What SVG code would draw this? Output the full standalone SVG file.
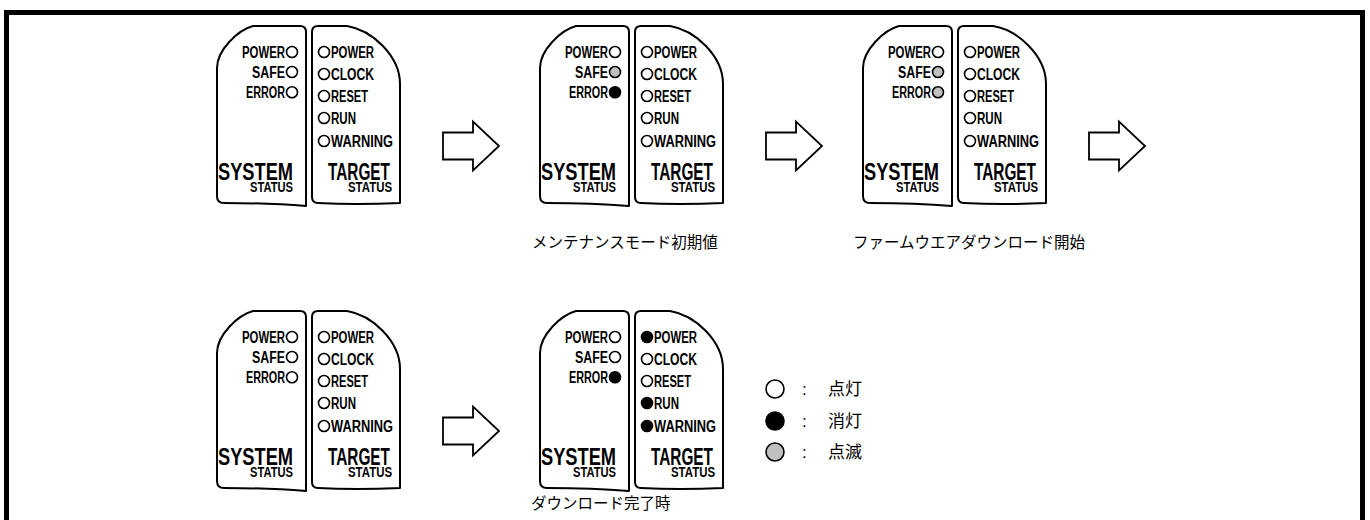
<svg xmlns="http://www.w3.org/2000/svg" xmlns:xlink="http://www.w3.org/1999/xlink" width="1370" height="520" viewBox="0 0 1370 520">
  <style>
    .frame { fill: none; stroke: #000; stroke-width: 5; }
    .case { fill: #fff; stroke: #000; stroke-width: 2; stroke-linejoin: round; }
    .led { stroke: #000; stroke-width: 1.6; }
    .on { fill: #fff; }
    .off { fill: #000; }
    .blink { fill: #c0c0c0; }
    .lbl { font-family: "Liberation Sans", Arial, sans-serif; font-weight: bold; font-size: 16px; fill: #000; }
    .big { font-family: "Liberation Sans", Arial, sans-serif; font-weight: bold; font-size: 24px; fill: #000; }
    .sub { font-family: "Liberation Sans", Arial, sans-serif; font-weight: bold; font-size: 14px; fill: #000; }
    .cap { font-family: "Liberation Sans", "Noto Sans CJK JP", sans-serif; font-size: 15.5px; fill: #000; }
    .leg { font-family: "Liberation Sans", "Noto Sans CJK JP", sans-serif; font-size: 17px; fill: #000; }
    .arrow { fill: #fff; stroke: #000; stroke-width: 1.8; stroke-linejoin: miter; }
  </style>
  <defs>
    <!-- status panel housing: SYSTEM half (left) and TARGET half (right) -->
    <g id="housing">
      <path class="case" d="M253,26 H300 Q306,26 306,32 V206 Q270,203 224,203 Q217,203 217,196 V68 C217,50 238,30 253,26 Z"/>
      <path class="case" d="M318,26 H347 C372,30 400,56 400,84 V203 Q356,205 318,203 Q312,203 312,197 V32 Q312,26 318,26 Z"/>
      <text class="lbl" x="285" y="57.8" text-anchor="end" textLength="43" lengthAdjust="spacingAndGlyphs">POWER</text>
      <text class="lbl" x="285" y="77.8" text-anchor="end" textLength="33" lengthAdjust="spacingAndGlyphs">SAFE</text>
      <text class="lbl" x="285" y="98.1" text-anchor="end" textLength="39" lengthAdjust="spacingAndGlyphs">ERROR</text>
      <text class="lbl" x="331" y="57.8" textLength="43" lengthAdjust="spacingAndGlyphs">POWER</text>
      <text class="lbl" x="331" y="79.8" textLength="43" lengthAdjust="spacingAndGlyphs">CLOCK</text>
      <text class="lbl" x="331" y="101.8" textLength="37" lengthAdjust="spacingAndGlyphs">RESET</text>
      <text class="lbl" x="331" y="123.8" textLength="25" lengthAdjust="spacingAndGlyphs">RUN</text>
      <text class="lbl" x="331" y="146.8" textLength="62" lengthAdjust="spacingAndGlyphs">WARNING</text>
      <text class="big" x="218" y="180" textLength="75" lengthAdjust="spacingAndGlyphs">SYSTEM</text>
      <text class="sub" x="250" y="191.5" textLength="43" lengthAdjust="spacingAndGlyphs">STATUS</text>
      <text class="big" x="328" y="180" textLength="62" lengthAdjust="spacingAndGlyphs">TARGET</text>
      <text class="sub" x="348" y="191.5" textLength="44" lengthAdjust="spacingAndGlyphs">STATUS</text>
    </g>
  </defs>

  <!-- outer frame (bottom edge runs off the sheet) -->
  <path class="frame" d="M6.5,522 V12.5 H1362.5 V522"/>

  <!-- initial state: every LED lit -->
  <g id="panel-initial">
    <use xlink:href="#housing"/>
    <circle class="led on" cx="292" cy="52" r="5.5"/>
    <circle class="led on" cx="292" cy="72" r="5.5"/>
    <circle class="led on" cx="292" cy="92.3" r="5.5"/>
    <circle class="led on" cx="324" cy="52" r="5.5"/>
    <circle class="led on" cx="324" cy="74" r="5.5"/>
    <circle class="led on" cx="324" cy="96" r="5.5"/>
    <circle class="led on" cx="324" cy="118" r="5.5"/>
    <circle class="led on" cx="324" cy="141" r="5.5"/>
  </g>

  <!-- maintenance mode default -->
  <g id="panel-maintenance" transform="translate(323,0)">
    <use xlink:href="#housing"/>
    <circle class="led on" cx="292" cy="52" r="5.5"/>
    <circle class="led blink" cx="292" cy="72" r="5.5"/>
    <circle class="led off" cx="292" cy="92.3" r="5.5"/>
    <circle class="led on" cx="324" cy="52" r="5.5"/>
    <circle class="led on" cx="324" cy="74" r="5.5"/>
    <circle class="led on" cx="324" cy="96" r="5.5"/>
    <circle class="led on" cx="324" cy="118" r="5.5"/>
    <circle class="led on" cx="324" cy="141" r="5.5"/>
    <text class="cap" x="209" y="248">メンテナンスモード初期値</text>
  </g>

  <!-- firmware download started -->
  <g id="panel-download-start" transform="translate(646,0)">
    <use xlink:href="#housing"/>
    <circle class="led on" cx="292" cy="52" r="5.5"/>
    <circle class="led blink" cx="292" cy="72" r="5.5"/>
    <circle class="led blink" cx="292" cy="92.3" r="5.5"/>
    <circle class="led on" cx="324" cy="52" r="5.5"/>
    <circle class="led on" cx="324" cy="74" r="5.5"/>
    <circle class="led on" cx="324" cy="96" r="5.5"/>
    <circle class="led on" cx="324" cy="118" r="5.5"/>
    <circle class="led on" cx="324" cy="141" r="5.5"/>
    <text class="cap" x="207" y="248">ファームウエアダウンロード開始</text>
  </g>

  <!-- second row: before completion -->
  <g id="panel-row2-initial" transform="translate(0,285)">
    <use xlink:href="#housing"/>
    <circle class="led on" cx="292" cy="52" r="5.5"/>
    <circle class="led on" cx="292" cy="72" r="5.5"/>
    <circle class="led on" cx="292" cy="92.3" r="5.5"/>
    <circle class="led on" cx="324" cy="52" r="5.5"/>
    <circle class="led on" cx="324" cy="74" r="5.5"/>
    <circle class="led on" cx="324" cy="96" r="5.5"/>
    <circle class="led on" cx="324" cy="118" r="5.5"/>
    <circle class="led on" cx="324" cy="141" r="5.5"/>
  </g>

  <!-- download complete -->
  <g id="panel-download-done" transform="translate(323,285)">
    <use xlink:href="#housing"/>
    <circle class="led on" cx="292" cy="52" r="5.5"/>
    <circle class="led on" cx="292" cy="72" r="5.5"/>
    <circle class="led off" cx="292" cy="92.3" r="5.5"/>
    <circle class="led off" cx="324" cy="52" r="5.5"/>
    <circle class="led on" cx="324" cy="74" r="5.5"/>
    <circle class="led on" cx="324" cy="96" r="5.5"/>
    <circle class="led off" cx="324" cy="118" r="5.5"/>
    <circle class="led off" cx="324" cy="141" r="5.5"/>
    <text class="cap" x="208" y="224">ダウンロード完了時</text>
  </g>

  <!-- legend -->
  <g id="legend">
    <circle class="led on" cx="775" cy="389" r="9"/>
    <circle class="led off" cx="775" cy="421" r="9"/>
    <circle class="led blink" cx="775" cy="452" r="9"/>
    <text class="leg" x="802" y="395">:</text>
    <text class="leg" x="802" y="427">:</text>
    <text class="leg" x="802" y="458">:</text>
    <text class="leg" x="828" y="395">点灯</text>
    <text class="leg" x="828" y="427">消灯</text>
    <text class="leg" x="828" y="458">点滅</text>
  </g>

  <!-- block arrows between states -->
  <g id="connectors">
    <path class="arrow" d="M443,132.5 H473 V121.5 L499,146 L473,170.5 V159.5 H443 Z"/>
    <path class="arrow" d="M766,132.5 H796 V121.5 L822,146 L796,170.5 V159.5 H766 Z"/>
    <path class="arrow" d="M1089,132.5 H1119 V121.5 L1145,146 L1119,170.5 V159.5 H1089 Z"/>
    <path class="arrow" d="M443,417.5 H473 V406.5 L499,431 L473,455.5 V444.5 H443 Z"/>
  </g>
</svg>
